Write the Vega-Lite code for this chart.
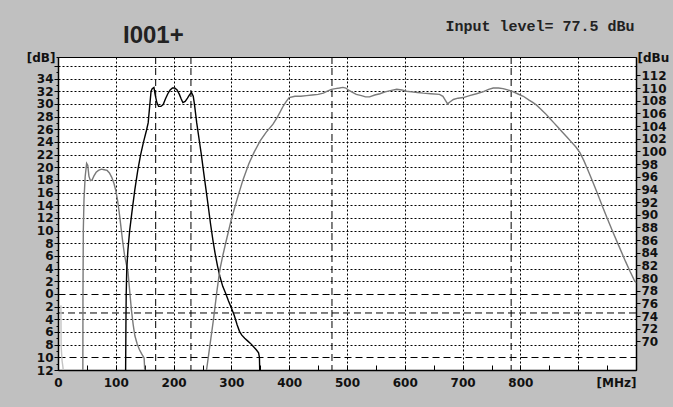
{
  "$schema": "https://vega.github.io/schema/vega-lite/v6.json",
  "width": 578,
  "height": 313,
  "autosize": {"type": "none"},
  "padding": {"left": 58, "top": 57, "right": 37, "bottom": 37},
  "background": "#c0c0c0",
  "config": {
    "view": {"fill": "#ffffff", "stroke": "#000000", "strokeWidth": 1},
    "axis": {
      "labelFont": "DejaVu Sans",
      "labelFontWeight": "bold",
      "labelFontSize": 12,
      "labelColor": "#111111",
      "domainColor": "#000000",
      "domainWidth": 1.5,
      "tickColor": "#000000",
      "gridColor": "#000000"
    }
  },
  "title": {
    "text": "I001+",
    "anchor": "start",
    "frame": "group",
    "dx": 65,
    "offset": -30,
    "font": "Liberation Sans",
    "fontSize": 24,
    "fontWeight": "bold",
    "color": "#222222"
  },
  "datasets": {
    "vdash": [{"f": 169}, {"f": 230}, {"f": 474}, {"f": 784}],
    "hdash": [{"v": -3}],
    "curves": [
      {"s": "faint", "i": 1, "f": 5, "db": -1.8},
      {"s": "faint", "i": 2, "f": 5.2, "db": -5},
      {"s": "faint", "i": 3, "f": 5.4, "db": -8.2},
      {"s": "faint", "i": 4, "f": 7, "db": -10.5},
      {"s": "faint", "i": 5, "f": 8.5, "db": -11.5},
      {"s": "faint", "i": 6, "f": 9, "db": -12},
      {"s": "ch1", "i": 1, "f": 43, "db": -12},
      {"s": "ch1", "i": 2, "f": 43.2, "db": 0},
      {"s": "ch1", "i": 3, "f": 43.8, "db": 10},
      {"s": "ch1", "i": 4, "f": 45, "db": 15},
      {"s": "ch1", "i": 5, "f": 47, "db": 18.5},
      {"s": "ch1", "i": 6, "f": 49.5, "db": 20.6},
      {"s": "ch1", "i": 7, "f": 51.5, "db": 20.3},
      {"s": "ch1", "i": 8, "f": 53.5, "db": 18.6},
      {"s": "ch1", "i": 9, "f": 56, "db": 17.9},
      {"s": "ch1", "i": 10, "f": 59, "db": 18.0},
      {"s": "ch1", "i": 11, "f": 62, "db": 18.6},
      {"s": "ch1", "i": 12, "f": 66, "db": 19.2},
      {"s": "ch1", "i": 13, "f": 70, "db": 19.5},
      {"s": "ch1", "i": 14, "f": 75, "db": 19.7},
      {"s": "ch1", "i": 15, "f": 80, "db": 19.6},
      {"s": "ch1", "i": 16, "f": 85, "db": 19.5},
      {"s": "ch1", "i": 17, "f": 89, "db": 19.1},
      {"s": "ch1", "i": 18, "f": 93, "db": 18.4},
      {"s": "ch1", "i": 19, "f": 97, "db": 17.4},
      {"s": "ch1", "i": 20, "f": 100, "db": 16.3},
      {"s": "ch1", "i": 21, "f": 103, "db": 14.8},
      {"s": "ch1", "i": 22, "f": 106, "db": 12.8},
      {"s": "ch1", "i": 23, "f": 109, "db": 10.5},
      {"s": "ch1", "i": 24, "f": 112, "db": 8.2},
      {"s": "ch1", "i": 25, "f": 115, "db": 6.2},
      {"s": "ch1", "i": 26, "f": 118, "db": 4.8},
      {"s": "ch1", "i": 27, "f": 121, "db": 3.6},
      {"s": "ch1", "i": 28, "f": 124, "db": 0.5},
      {"s": "ch1", "i": 29, "f": 127, "db": -2.5},
      {"s": "ch1", "i": 30, "f": 130, "db": -4.8},
      {"s": "ch1", "i": 31, "f": 133, "db": -6.6},
      {"s": "ch1", "i": 32, "f": 137, "db": -7.9},
      {"s": "ch1", "i": 33, "f": 141, "db": -8.8},
      {"s": "ch1", "i": 34, "f": 145, "db": -9.5},
      {"s": "ch1", "i": 35, "f": 149, "db": -10.1},
      {"s": "ch1", "i": 36, "f": 150, "db": -12},
      {"s": "ch2", "i": 1, "f": 117, "db": -12},
      {"s": "ch2", "i": 2, "f": 117.5, "db": -5},
      {"s": "ch2", "i": 3, "f": 118, "db": 0},
      {"s": "ch2", "i": 4, "f": 119, "db": 4},
      {"s": "ch2", "i": 5, "f": 121, "db": 7},
      {"s": "ch2", "i": 6, "f": 124, "db": 10},
      {"s": "ch2", "i": 7, "f": 128, "db": 13},
      {"s": "ch2", "i": 8, "f": 133, "db": 16.5},
      {"s": "ch2", "i": 9, "f": 138, "db": 19.5},
      {"s": "ch2", "i": 10, "f": 143, "db": 22},
      {"s": "ch2", "i": 11, "f": 148, "db": 24},
      {"s": "ch2", "i": 12, "f": 153, "db": 25.8},
      {"s": "ch2", "i": 13, "f": 156, "db": 27},
      {"s": "ch2", "i": 14, "f": 159, "db": 30},
      {"s": "ch2", "i": 15, "f": 161, "db": 32},
      {"s": "ch2", "i": 16, "f": 163, "db": 32.4},
      {"s": "ch2", "i": 17, "f": 166, "db": 32.6},
      {"s": "ch2", "i": 18, "f": 168, "db": 31.5},
      {"s": "ch2", "i": 19, "f": 171, "db": 30.2},
      {"s": "ch2", "i": 20, "f": 174, "db": 29.6},
      {"s": "ch2", "i": 21, "f": 178, "db": 29.6},
      {"s": "ch2", "i": 22, "f": 182, "db": 29.9},
      {"s": "ch2", "i": 23, "f": 186, "db": 30.8},
      {"s": "ch2", "i": 24, "f": 190, "db": 31.6},
      {"s": "ch2", "i": 25, "f": 194, "db": 32.2},
      {"s": "ch2", "i": 26, "f": 198, "db": 32.5},
      {"s": "ch2", "i": 27, "f": 202, "db": 32.5},
      {"s": "ch2", "i": 28, "f": 206, "db": 32.2},
      {"s": "ch2", "i": 29, "f": 210, "db": 31.5},
      {"s": "ch2", "i": 30, "f": 213, "db": 30.8},
      {"s": "ch2", "i": 31, "f": 216, "db": 30.2},
      {"s": "ch2", "i": 32, "f": 220, "db": 30.4},
      {"s": "ch2", "i": 33, "f": 224, "db": 30.9},
      {"s": "ch2", "i": 34, "f": 228, "db": 31.5},
      {"s": "ch2", "i": 35, "f": 231, "db": 31.8},
      {"s": "ch2", "i": 36, "f": 234, "db": 31.2},
      {"s": "ch2", "i": 37, "f": 236, "db": 30.0},
      {"s": "ch2", "i": 38, "f": 238, "db": 28.5},
      {"s": "ch2", "i": 39, "f": 240, "db": 27.0},
      {"s": "ch2", "i": 40, "f": 244, "db": 24.5},
      {"s": "ch2", "i": 41, "f": 248, "db": 22},
      {"s": "ch2", "i": 42, "f": 252, "db": 19.2},
      {"s": "ch2", "i": 43, "f": 256, "db": 16.5},
      {"s": "ch2", "i": 44, "f": 260, "db": 13.8},
      {"s": "ch2", "i": 45, "f": 264, "db": 11},
      {"s": "ch2", "i": 46, "f": 268, "db": 8.5},
      {"s": "ch2", "i": 47, "f": 272, "db": 6.3},
      {"s": "ch2", "i": 48, "f": 276, "db": 4.4},
      {"s": "ch2", "i": 49, "f": 280, "db": 2.8},
      {"s": "ch2", "i": 50, "f": 285, "db": 1.2},
      {"s": "ch2", "i": 51, "f": 290, "db": 0.1},
      {"s": "ch2", "i": 52, "f": 295, "db": -1.1},
      {"s": "ch2", "i": 53, "f": 300, "db": -2.2},
      {"s": "ch2", "i": 54, "f": 305, "db": -3.4},
      {"s": "ch2", "i": 55, "f": 310, "db": -4.9},
      {"s": "ch2", "i": 56, "f": 314, "db": -5.9},
      {"s": "ch2", "i": 57, "f": 318, "db": -6.5},
      {"s": "ch2", "i": 58, "f": 323, "db": -7.0},
      {"s": "ch2", "i": 59, "f": 328, "db": -7.4},
      {"s": "ch2", "i": 60, "f": 333, "db": -7.8},
      {"s": "ch2", "i": 61, "f": 338, "db": -8.3},
      {"s": "ch2", "i": 62, "f": 343, "db": -8.8},
      {"s": "ch2", "i": 63, "f": 347, "db": -9.3},
      {"s": "ch2", "i": 64, "f": 348.5, "db": -10},
      {"s": "ch2", "i": 65, "f": 349, "db": -12},
      {"s": "ch3", "i": 1, "f": 257, "db": -12},
      {"s": "ch3", "i": 2, "f": 263, "db": -8},
      {"s": "ch3", "i": 3, "f": 269, "db": -4},
      {"s": "ch3", "i": 4, "f": 275, "db": 0.5},
      {"s": "ch3", "i": 5, "f": 280, "db": 3.8},
      {"s": "ch3", "i": 6, "f": 285, "db": 6},
      {"s": "ch3", "i": 7, "f": 290, "db": 8},
      {"s": "ch3", "i": 8, "f": 295, "db": 9.9},
      {"s": "ch3", "i": 9, "f": 300, "db": 11.8},
      {"s": "ch3", "i": 10, "f": 310, "db": 15},
      {"s": "ch3", "i": 11, "f": 320, "db": 18},
      {"s": "ch3", "i": 12, "f": 330, "db": 20.5},
      {"s": "ch3", "i": 13, "f": 340, "db": 22.5},
      {"s": "ch3", "i": 14, "f": 350, "db": 24.2},
      {"s": "ch3", "i": 15, "f": 360, "db": 25.5},
      {"s": "ch3", "i": 16, "f": 372, "db": 26.8},
      {"s": "ch3", "i": 17, "f": 380, "db": 28},
      {"s": "ch3", "i": 18, "f": 390, "db": 29.7},
      {"s": "ch3", "i": 19, "f": 395, "db": 30.4},
      {"s": "ch3", "i": 20, "f": 400, "db": 31.0},
      {"s": "ch3", "i": 21, "f": 410, "db": 31.2},
      {"s": "ch3", "i": 22, "f": 420, "db": 31.2},
      {"s": "ch3", "i": 23, "f": 430, "db": 31.3},
      {"s": "ch3", "i": 24, "f": 440, "db": 31.4},
      {"s": "ch3", "i": 25, "f": 450, "db": 31.5},
      {"s": "ch3", "i": 26, "f": 459, "db": 31.7},
      {"s": "ch3", "i": 27, "f": 466, "db": 32.0},
      {"s": "ch3", "i": 28, "f": 473, "db": 32.3},
      {"s": "ch3", "i": 29, "f": 480, "db": 32.4},
      {"s": "ch3", "i": 30, "f": 487, "db": 32.5},
      {"s": "ch3", "i": 31, "f": 493, "db": 32.6},
      {"s": "ch3", "i": 32, "f": 498, "db": 32.5},
      {"s": "ch3", "i": 33, "f": 502, "db": 32.2},
      {"s": "ch3", "i": 34, "f": 508, "db": 31.9},
      {"s": "ch3", "i": 35, "f": 516, "db": 31.5},
      {"s": "ch3", "i": 36, "f": 525, "db": 31.3},
      {"s": "ch3", "i": 37, "f": 532, "db": 31.1},
      {"s": "ch3", "i": 38, "f": 539, "db": 31.1},
      {"s": "ch3", "i": 39, "f": 548, "db": 31.4},
      {"s": "ch3", "i": 40, "f": 557, "db": 31.6},
      {"s": "ch3", "i": 41, "f": 566, "db": 31.9},
      {"s": "ch3", "i": 42, "f": 575, "db": 32.1},
      {"s": "ch3", "i": 43, "f": 586, "db": 32.3},
      {"s": "ch3", "i": 44, "f": 595, "db": 32.2},
      {"s": "ch3", "i": 45, "f": 603, "db": 32.0},
      {"s": "ch3", "i": 46, "f": 612, "db": 31.9},
      {"s": "ch3", "i": 47, "f": 622, "db": 31.8},
      {"s": "ch3", "i": 48, "f": 632, "db": 31.7},
      {"s": "ch3", "i": 49, "f": 645, "db": 31.6},
      {"s": "ch3", "i": 50, "f": 660, "db": 31.5},
      {"s": "ch3", "i": 51, "f": 666, "db": 31.2},
      {"s": "ch3", "i": 52, "f": 670, "db": 30.6},
      {"s": "ch3", "i": 53, "f": 674, "db": 30.0},
      {"s": "ch3", "i": 54, "f": 678, "db": 30.3},
      {"s": "ch3", "i": 55, "f": 684, "db": 30.7},
      {"s": "ch3", "i": 56, "f": 692, "db": 30.9},
      {"s": "ch3", "i": 57, "f": 701, "db": 31.0},
      {"s": "ch3", "i": 58, "f": 712, "db": 31.3},
      {"s": "ch3", "i": 59, "f": 724, "db": 31.6},
      {"s": "ch3", "i": 60, "f": 735, "db": 31.9},
      {"s": "ch3", "i": 61, "f": 745, "db": 32.3},
      {"s": "ch3", "i": 62, "f": 753, "db": 32.5},
      {"s": "ch3", "i": 63, "f": 762, "db": 32.5},
      {"s": "ch3", "i": 64, "f": 770, "db": 32.4},
      {"s": "ch3", "i": 65, "f": 778, "db": 32.2},
      {"s": "ch3", "i": 66, "f": 785, "db": 32.0},
      {"s": "ch3", "i": 67, "f": 795, "db": 31.6},
      {"s": "ch3", "i": 68, "f": 805, "db": 31.2},
      {"s": "ch3", "i": 69, "f": 815, "db": 30.6},
      {"s": "ch3", "i": 70, "f": 822, "db": 30.2},
      {"s": "ch3", "i": 71, "f": 828, "db": 29.8},
      {"s": "ch3", "i": 72, "f": 835, "db": 29.2},
      {"s": "ch3", "i": 73, "f": 843, "db": 28.5},
      {"s": "ch3", "i": 74, "f": 851, "db": 27.7},
      {"s": "ch3", "i": 75, "f": 858, "db": 27.0},
      {"s": "ch3", "i": 76, "f": 865, "db": 26.3},
      {"s": "ch3", "i": 77, "f": 872, "db": 25.6},
      {"s": "ch3", "i": 78, "f": 880, "db": 24.8},
      {"s": "ch3", "i": 79, "f": 888, "db": 24.0},
      {"s": "ch3", "i": 80, "f": 896, "db": 23.2},
      {"s": "ch3", "i": 81, "f": 903, "db": 22.3},
      {"s": "ch3", "i": 82, "f": 910, "db": 21.0},
      {"s": "ch3", "i": 83, "f": 918, "db": 19.3},
      {"s": "ch3", "i": 84, "f": 926, "db": 17.5},
      {"s": "ch3", "i": 85, "f": 934, "db": 15.7},
      {"s": "ch3", "i": 86, "f": 942, "db": 13.8},
      {"s": "ch3", "i": 87, "f": 950, "db": 12.0},
      {"s": "ch3", "i": 88, "f": 958, "db": 10.2},
      {"s": "ch3", "i": 89, "f": 966, "db": 8.5},
      {"s": "ch3", "i": 90, "f": 974, "db": 6.8},
      {"s": "ch3", "i": 91, "f": 982, "db": 5.1},
      {"s": "ch3", "i": 92, "f": 990, "db": 3.5},
      {"s": "ch3", "i": 93, "f": 997, "db": 2.2},
      {"s": "ch3", "i": 94, "f": 1000, "db": 1.8}
    ]
  },
  "layer": [
    {
      "data": {"name": "vdash"},
      "mark": {"type": "rule", "color": "#000000", "strokeWidth": 1, "strokeDash": [7, 4]},
      "encoding": {
        "x": {"field": "f", "type": "quantitative", "scale": {"domain": [0, 1000], "nice": false, "zero": false}, "axis": null}
      }
    },
    {
      "data": {"name": "hdash"},
      "mark": {"type": "rule", "color": "#000000", "strokeWidth": 1, "strokeDash": [7, 4]},
      "encoding": {
        "y": {
          "field": "v",
          "type": "quantitative",
          "scale": {"domain": [-12, 37.4], "nice": false, "zero": false},
          "axis": {
            "orient": "right",
            "values": [-7.5, -5.5, -3.5, -1.5, 0.5, 2.5, 4.5, 6.5, 8.5, 10.5, 12.5, 14.5, 16.5, 18.5, 20.5, 22.5, 24.5, 26.5, 28.5, 30.5, 32.5, 34.5, 37.4],
            "labelExpr": "datum.value > 37 ? '[dBu' : format(datum.value + 77.5, 'd')",
            "grid": false,
            "tickSize": {"condition": {"test": "datum.value > 37", "value": 0}, "value": 4},
            "labelPadding": 1,
            "labelAlign": "left",
            "labelBaseline": "middle",
            "labelFlush": false,
            "labelOverlap": false,
            "domain": true,
            "title": "Input level= 77.5 dBu",
            "titleAngle": 0,
            "titleX": -2,
            "titleY": -27,
            "titleAlign": "right",
            "titleBaseline": "alphabetic",
            "titleFont": "Liberation Mono",
            "titleFontSize": 15,
            "titleFontWeight": "bold",
            "titleColor": "#222222"
          }
        }
      }
    },
    {
      "data": {"name": "curves"},
      "mark": {"type": "line", "strokeWidth": 1.4, "interpolate": "linear"},
      "encoding": {
        "x": {
          "field": "f",
          "type": "quantitative",
          "scale": {"domain": [0, 1000], "nice": false, "zero": false},
          "axis": {
            "orient": "bottom",
            "values": [0, 50, 100, 150, 200, 250, 300, 350, 400, 450, 500, 550, 600, 650, 700, 750, 800, 850, 900, 950, 1000],
            "labelExpr": "datum.value == 1000 ? '[MHz]' : (datum.value % 100 == 0 && datum.value <= 800 ? format(datum.value, 'd') : '')",
            "labelAlign": {"condition": {"test": "datum.value == 1000", "value": "right"}, "value": "center"},
            "labelFlush": false,
            "labelOverlap": false,
            "labelPadding": 12,
            "tickSize": -5,
            "grid": true,
            "gridDash": [2, 2],
            "gridOpacity": {"condition": {"test": "datum.value % 100 != 0 || datum.value == 0 || datum.value == 1000", "value": 0}, "value": 1},
            "title": null
          }
        },
        "y": {
          "field": "db",
          "type": "quantitative",
          "scale": {"domain": [-12, 37.4], "nice": false, "zero": false},
          "axis": {
            "orient": "left",
            "values": [-12, -11, -10, -9, -8, -7, -6, -5, -4, -3, -2, -1, 0, 1, 2, 3, 4, 5, 6, 7, 8, 9, 10, 11, 12, 13, 14, 15, 16, 17, 18, 19, 20, 21, 22, 23, 24, 25, 26, 27, 28, 29, 30, 31, 32, 33, 34, 35, 36, 37.4],
            "labelExpr": "datum.value > 37 ? '[dB]' : (datum.value % 2 == 0 && datum.value < 35 ? format(abs(datum.value), 'd') : '')",
            "labelPadding": 1,
            "labelFlush": false,
            "labelOverlap": false,
            "labelBaseline": "middle",
            "tickSize": {"condition": {"test": "datum.value % 2 != 0", "value": 2}, "value": 4},
            "grid": true,
            "gridDash": {"condition": {"test": "datum.value == 0 || datum.value == -10", "value": [7, 4]}, "value": [2, 2]},
            "gridOpacity": {"condition": {"test": "datum.value % 2 != 0 || datum.value < -11 || datum.value > 37", "value": 0}, "value": 1},
            "title": null
          }
        },
        "color": {
          "field": "s",
          "type": "nominal",
          "scale": {"domain": ["ch1", "ch2", "ch3", "faint"], "range": ["#7a7a7a", "#000000", "#7a7a7a", "#c4c4c4"]},
          "legend": null
        },
        "order": {"field": "i", "type": "quantitative"}
      }
    }
  ],
  "resolve": {"axis": {"y": "independent", "x": "independent"}}
}
